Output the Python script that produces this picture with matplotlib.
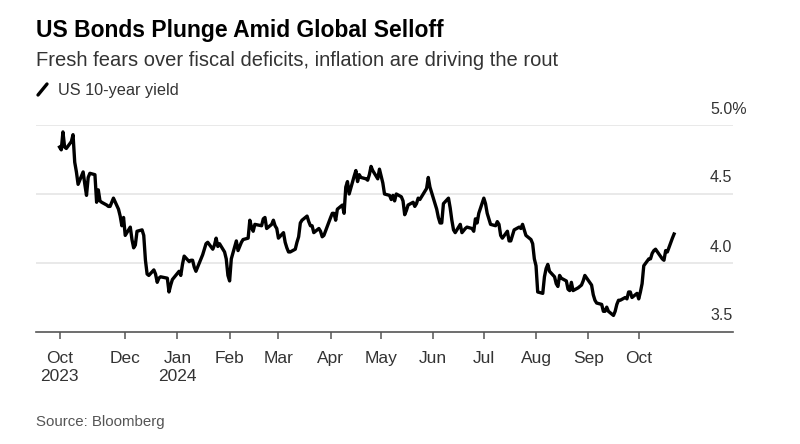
import matplotlib
matplotlib.use("Agg")
import matplotlib.pyplot as plt
import matplotlib.transforms as mtransforms
from matplotlib.lines import Line2D
import pandas as pd

plt.rcParams['font.family'] = ['Liberation Sans', 'DejaVu Sans']

# US 10-year yield, daily closes (one row per week)
yields = [
    4.84, 4.82, 4.95, 4.84, 4.83,   # Oct 23 2023
    4.88, 4.93, 4.73, 4.66, 4.57,
    4.66, 4.57, 4.49, 4.62, 4.65,
    4.64, 4.44, 4.53, 4.45, 4.44,
    4.42, 4.41, 4.41, 4.47,         # thanksgiving
    4.39, 4.34, 4.27, 4.33, 4.20,
    4.26, 4.17, 4.11, 4.13, 4.23,
    4.24, 4.20, 4.02, 3.92, 3.91,
    3.95, 3.92, 3.86, 3.89, 3.90,
    3.89, 3.79, 3.84, 3.88,
    3.94, 3.91, 3.99, 4.05,         # Jan 2024
    4.01, 4.02, 4.02, 3.97, 3.94,
    4.06, 4.10, 4.14, 4.15,
    4.10, 4.13, 4.18, 4.12, 4.14,
    4.08, 4.03, 3.91, 3.87, 4.03,
    4.16, 4.09, 4.12, 4.15, 4.17,
    4.18, 4.31, 4.26, 4.23, 4.28,
    4.27, 4.32, 4.33, 4.25,
    4.28, 4.31, 4.27, 4.25, 4.18,
    4.22, 4.15, 4.11, 4.08, 4.08,
    4.10, 4.15, 4.19, 4.29, 4.31,
    4.34, 4.30, 4.27, 4.27, 4.22,
    4.25, 4.23, 4.19, 4.20,
    4.33, 4.36, 4.36, 4.31, 4.39,   # Apr
    4.42, 4.36, 4.55, 4.59, 4.50,
    4.63, 4.67, 4.59, 4.64, 4.62,
    4.61, 4.60, 4.64, 4.70, 4.67,
    4.61, 4.68, 4.63, 4.58, 4.50,
    4.49, 4.46, 4.49, 4.45, 4.50,
    4.48, 4.45, 4.35, 4.38, 4.42,
    4.44, 4.41, 4.43, 4.47, 4.46,
    4.54, 4.62, 4.55, 4.51,
    4.39, 4.33, 4.29, 4.29, 4.43,   # Jun
    4.47, 4.40, 4.31, 4.24, 4.22,
    4.28, 4.22, 4.25, 4.26,
    4.25, 4.23, 4.32, 4.29, 4.36,
    4.47, 4.43, 4.36, 4.28,         # Jul
    4.27, 4.30, 4.28, 4.20, 4.18,
    4.23, 4.16, 4.16, 4.20, 4.24,
    4.26, 4.25, 4.28, 4.24, 4.20,
    4.17, 4.14, 4.03, 3.98, 3.79,
    3.78, 3.90, 3.96, 3.99, 3.94,   # Aug
    3.90, 3.85, 3.83, 3.91, 3.89,
    3.87, 3.81, 3.80, 3.86, 3.80,
    3.82, 3.83, 3.84, 3.87, 3.91,
    3.84, 3.77, 3.73, 3.71,         # Sep
    3.70, 3.65, 3.65, 3.68, 3.65,
    3.62, 3.65, 3.70, 3.73, 3.73,
    3.75, 3.74, 3.79, 3.79, 3.75,
    3.78, 3.74, 3.79, 3.85, 3.98,
    4.03, 4.03, 4.07, 4.09, 4.10,   # Oct
    4.03, 4.02, 4.09, 4.08,
    4.18, 4.21,
]
holidays = ['2023-11-23', '2023-12-25', '2024-01-01', '2024-01-15', '2024-02-19',
            '2024-03-29', '2024-05-27', '2024-06-19', '2024-07-04', '2024-09-02',
            '2024-10-14']
dates = pd.bdate_range('2023-10-23', '2024-10-22', freq='C', holidays=holidays)
yields = yields[:len(dates)]
dates = dates[:len(yields)]

tick_dates = pd.to_datetime(['2023-10-23', '2023-12-01', '2024-01-01', '2024-02-01',
                             '2024-03-01', '2024-04-01', '2024-05-01', '2024-06-01',
                             '2024-07-01', '2024-08-01', '2024-09-01', '2024-10-01'])
tick_labels = ['Oct\n2023', 'Dec', 'Jan\n2024', 'Feb', 'Mar', 'Apr', 'May', 'Jun',
               'Jul', 'Aug', 'Sep', 'Oct']
y_levels = [3.5, 4.0, 4.5, 5.0]
y_labels = ['3.5', '4.0', '4.5', '5.0%']

W, H = 800, 444
fig = plt.figure(figsize=(8, 4.44), dpi=100)
ax = fig.add_axes([36 / W, 1 - 332 / H, (733 - 36) / W, (332 - 125) / H])

ax.plot(dates, yields, color='black', lw=2.4, solid_joinstyle='round', zorder=3)
ax.set_ylim(3.5, 5.0)
ax.set_xlim(pd.Timestamp('2023-10-09'), pd.Timestamp('2024-11-26'))

for s in ['top', 'right', 'left']:
    ax.spines[s].set_visible(False)
ax.spines['bottom'].set_color('#555555')
ax.spines['bottom'].set_linewidth(1.2)
for lv in y_levels[1:]:
    ax.axhline(lv, color='#e3e3e3', lw=1.1, zorder=1)

ax.set_yticks([])
ax.set_xticks(tick_dates)
ax.set_xticklabels(tick_labels, fontsize=12.5, color='#333333', linespacing=1.25)
ax.tick_params(axis='x', length=5, width=1.1, color='#555555', pad=9)

trans = mtransforms.blended_transform_factory(ax.transAxes, ax.transData)
trans = mtransforms.offset_copy(trans, fig=fig, x=0, y=16, units='dots')
for lv, lab in zip(y_levels, y_labels):
    ax.text((710 - 36) / (733 - 36), lv, lab, transform=trans, fontsize=11.5,
            color='#333333', ha='left', va='center')

fig.text(36 / W, 1 - 37 / H, 'US Bonds Plunge Amid Global Selloff', fontsize=16.5,
         fontweight='bold', color='black', va='baseline')
fig.text(36 / W, 1 - 66 / H, 'Fresh fears over fiscal deficits, inflation are driving the rout',
         fontsize=14.5, color='#333333', va='baseline')
fig.add_artist(Line2D([38 / W, 47 / W], [1 - 95 / H, 1 - 84 / H], color='black',
                      lw=2.4, solid_capstyle='round', transform=fig.transFigure))
fig.text(58 / W, 1 - 95 / H, 'US 10-year yield', fontsize=11.7, color='#333333', va='baseline')
fig.text(36 / W, 1 - 426 / H, 'Source: Bloomberg', fontsize=10.8, color='#555555', va='baseline')

fig.savefig('out.png', dpi=100)
